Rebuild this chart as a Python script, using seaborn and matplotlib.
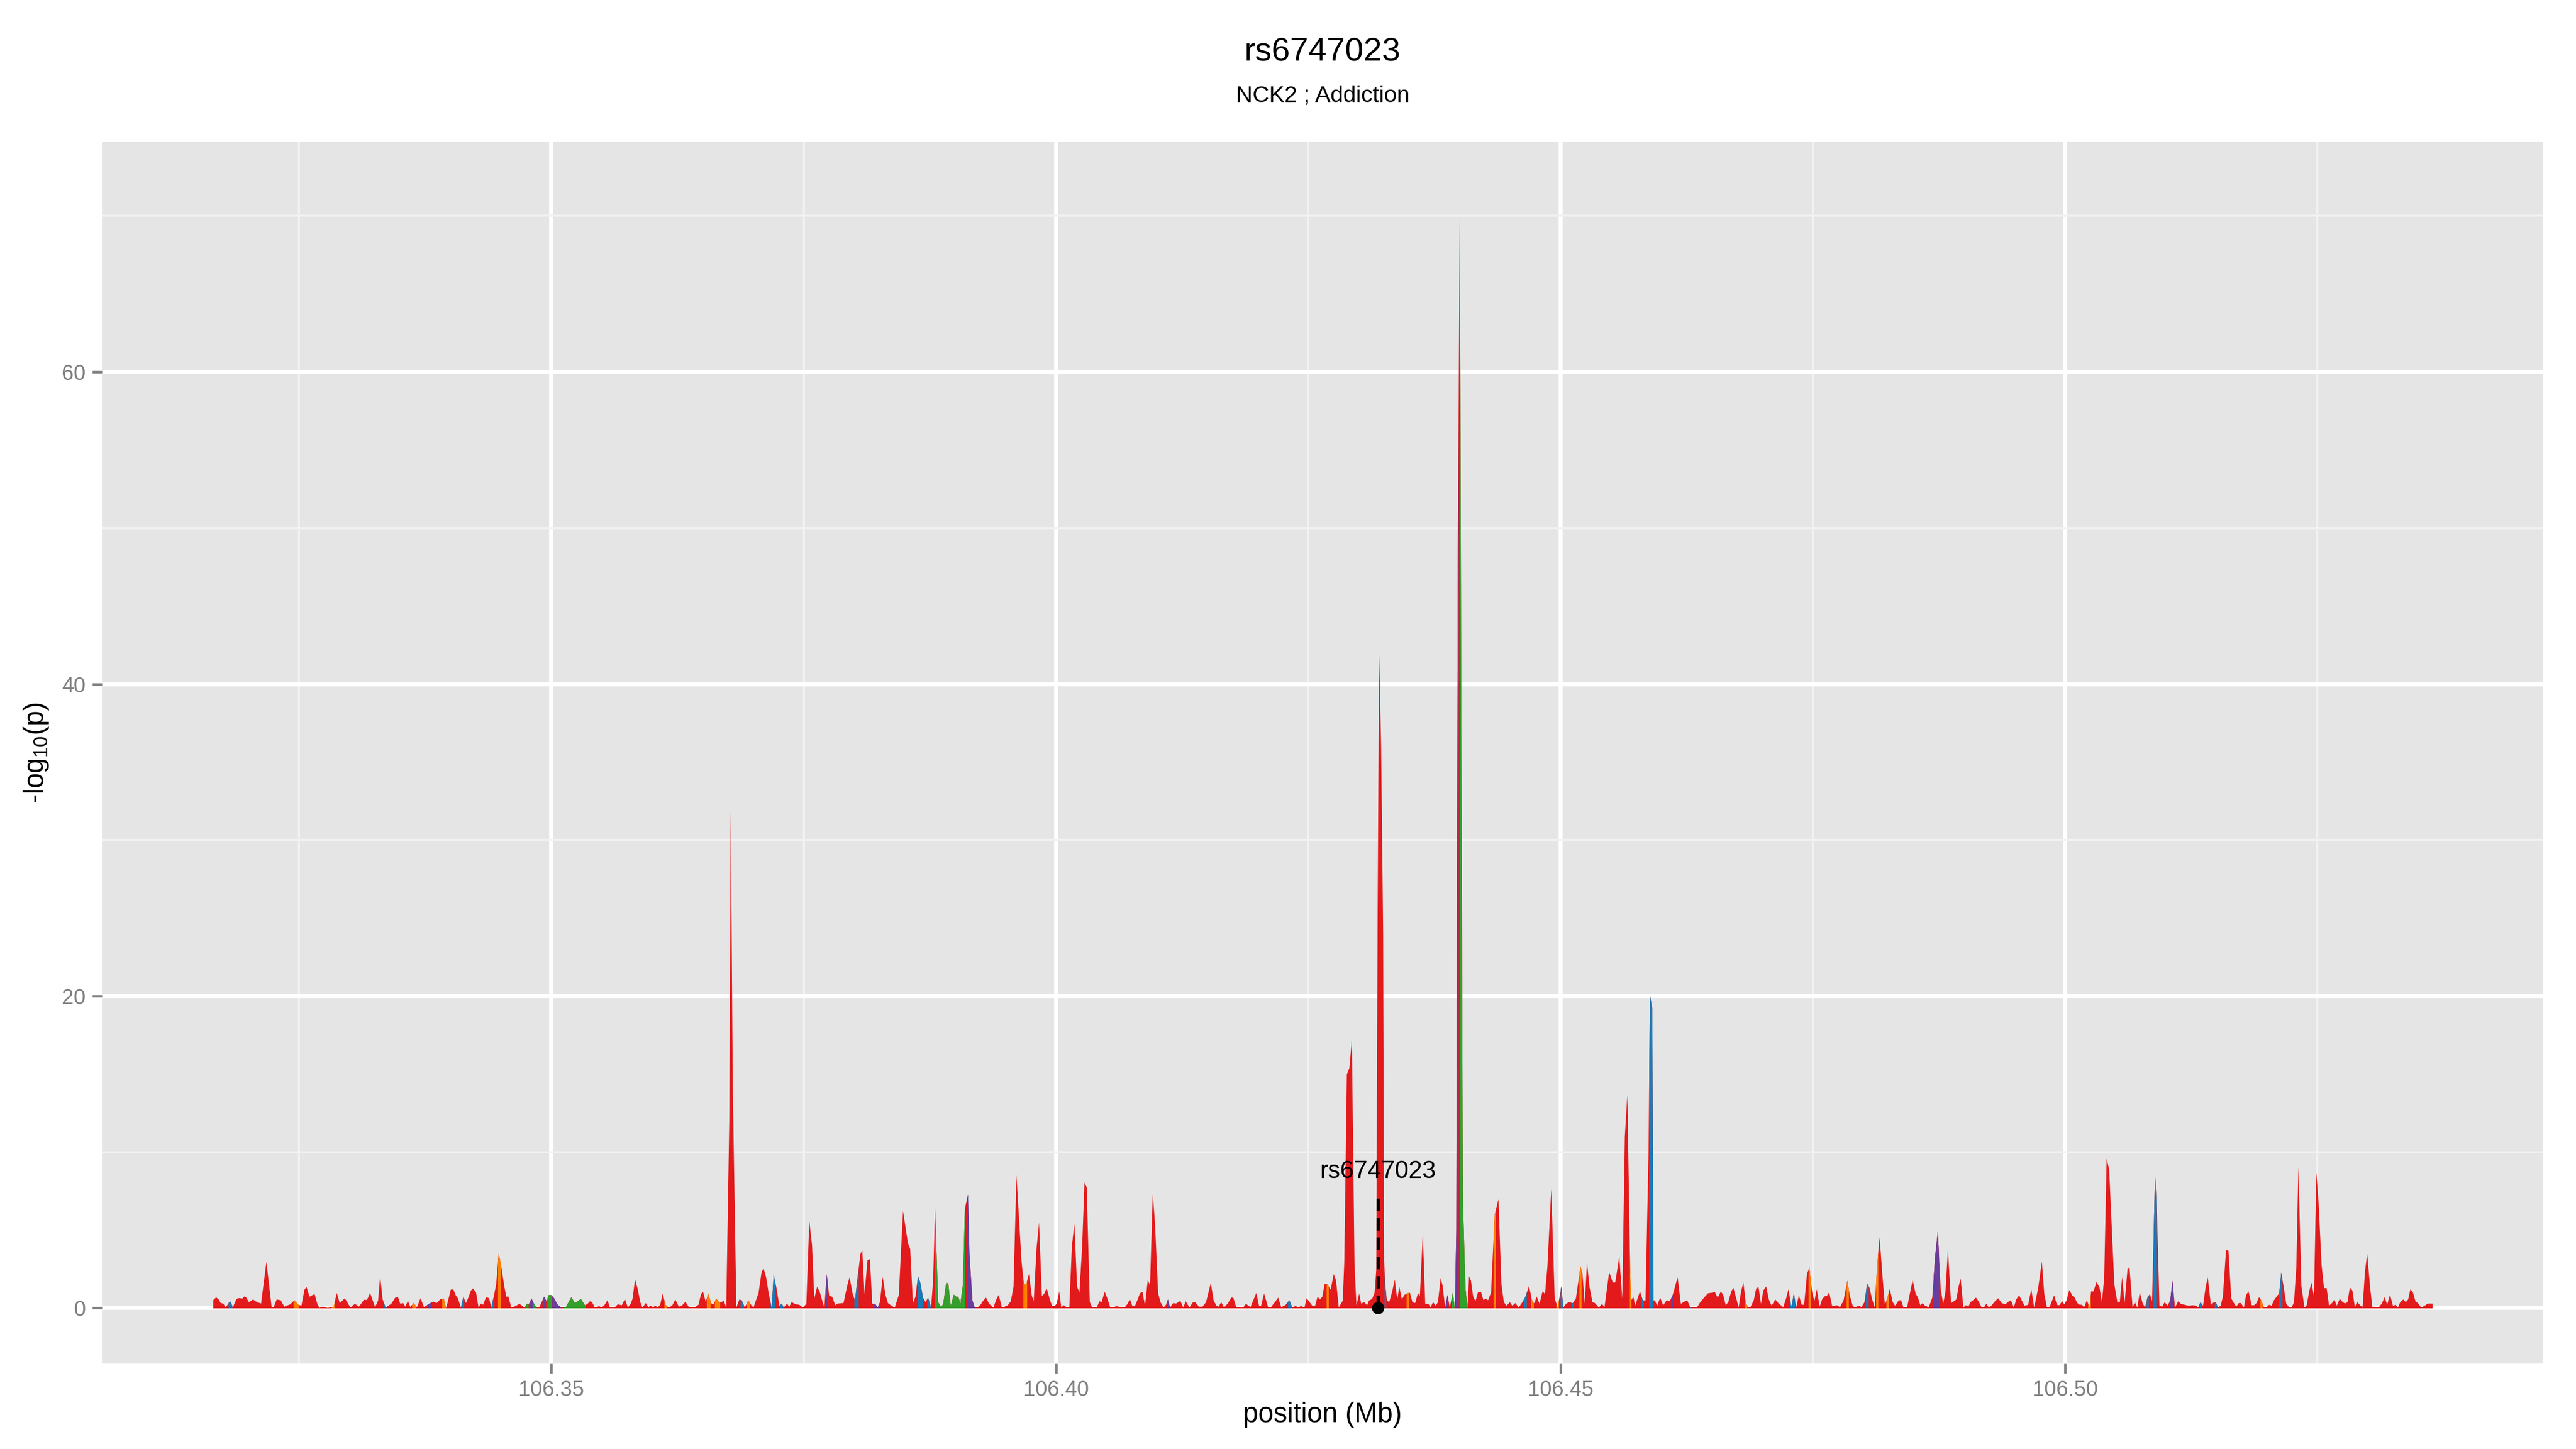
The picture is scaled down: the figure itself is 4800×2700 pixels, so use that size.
import numpy as np
import pandas as pd
import matplotlib
matplotlib.use("Agg")
import matplotlib.pyplot as plt
from matplotlib.patches import Rectangle
import seaborn as sns

# -log10(p) track, positions in kb from 106.30 Mb
seg1 = [(16.46, 0.52), (16.74, 0.71), (17.0, 0.57), (17.2, 0.34), (17.45, 0.31), (17.7, 0.06), (18.05, 0.4),
        (18.2, 0.43), (18.4, 0.06), (18.76, 0.61), (19.0, 0.66), (19.35, 0.63), (19.55, 0.77), (19.7, 0.72),
        (20.0, 0.4), (20.4, 0.57), (20.8, 0.4), (21.2, 0.31), (21.73, 2.98), (22.25, 0.06), (22.45, 0.08),
        (22.75, 0.57), (23.15, 0.52), (23.5, 0.11), (24.1, 0.26), (24.5, 0.52), (24.9, 0.23), (25.2, 0.17),
        (25.5, 1.2), (25.7, 1.38), (26.0, 0.75), (26.5, 0.92), (26.8, 0.23), (27.0, 0.03), (27.2, 0.11),
        (27.8, 0.03), (28.4, 0.11), (28.7, 0.99), (29.0, 0.34), (29.5, 0.65), (30.05, 0.06), (30.5, 0.29),
        (30.9, 0.11), (31.4, 0.55), (31.7, 0.54), (32.0, 0.99), (32.5, 0.08), (32.8, 0.5), (33.0, 2.06),
        (33.25, 0.57), (33.55, 0.06), (34.1, 0.29), (34.5, 0.69), (34.75, 0.75), (35.0, 0.29), (35.27, 0.34),
        (35.5, 0.11), (35.75, 0.48), (36.0, 0.08), (36.3, 0.34), (36.65, 0.08), (37.0, 0.65), (37.35, 0.08),
        (37.9, 0.31), (38.25, 0.44), (38.6, 0.34), (38.95, 0.57), (39.3, 0.63), (39.55, 0.03), (40.0, 1.2),
        (40.25, 1.23), (40.5, 0.83), (40.7, 0.65), (41.0, 0.06), (41.25, 0.75), (41.5, 0.34), (41.7, 0.63),
        (42.0, 1.15), (42.2, 1.28), (42.5, 1.03), (42.75, 0.06), (43.0, 0.31), (43.2, 0.23), (43.5, 0.72),
        (43.8, 0.65), (44.0, 0.06), (44.25, 0.72), (44.5, 1.55), (44.75, 3.55), (45.0, 2.7), (45.3, 1.43),
        (45.5, 0.75), (45.7, 0.77), (46.0, 0.06), (46.4, 0.14), (46.8, 0.29), (47.3, 0.06), (47.55, 0.29),
        (47.75, 0.29), (48.0, 0.63), (48.35, 0.17), (48.6, 0.06), (48.8, 0.11), (49.25, 0.75), (49.5, 0.46),
        (49.7, 0.86), (49.95, 0.86), (50.2, 0.69), (50.6, 0.23), (50.95, 0.06), (51.4, 0.08), (51.95, 0.72),
        (52.3, 0.34), (52.9, 0.6)]

seg2 = [(53.3, 0.2), (53.55, 0.29), (53.8, 0.46), (54.0, 0.4), (54.27, 0.06), (54.7, 0.14), (54.93, 0.08),
        (55.17, 0.15), (55.53, 0.52), (55.77, 0.06), (56.24, 0.06), (56.55, 0.26), (56.95, 0.2), (57.26, 0.6),
        (57.55, 0.06), (57.83, 0.29), (58.02, 0.63), (58.26, 1.86), (58.54, 1.2), (58.78, 0.4), (59.0, 0.06),
        (59.33, 0.34), (59.57, 0.08), (59.8, 0.17), (60.04, 0.08), (60.28, 0.17), (60.5, 0.06), (60.75, 0.23),
        (61.0, 0.95), (61.28, 0.23), (61.58, 0.06), (61.94, 0.17), (62.25, 0.57), (62.6, 0.11), (62.9, 0.17),
        (63.25, 0.42), (63.6, 0.08), (64.2, 0.08), (64.55, 0.23), (64.8, 0.92), (65.0, 1.07), (65.27, 0.4),
        (65.5, 0.97), (65.8, 0.34), (66.0, 0.23), (66.3, 0.63), (66.6, 0.4), (66.8, 0.4), (67.05, 0.48),
        (67.3, 0.06), (67.6, 12.0), (67.75, 31.9), (67.95, 14.0), (68.3, 0.06), (68.6, 0.57), (68.83, 0.52),
        (69.14, 0.06), (69.5, 0.52), (69.78, 0.2), (70.0, 0.06), (70.5, 0.99), (70.8, 2.33), (71.0, 2.56),
        (71.25, 2.0), (71.5, 0.99), (71.8, 0.06), (72.0, 2.15), (72.27, 1.33), (72.56, 0.17), (72.8, 0.31),
        (73.0, 0.06), (73.34, 0.31), (73.53, 0.08), (73.77, 0.4), (74.2, 0.26), (74.53, 0.23), (74.9, 0.06),
        (75.24, 0.29), (75.53, 5.6), (75.8, 4.07), (76.03, 0.63), (76.3, 1.38), (76.55, 1.09), (76.8, 0.52),
        (77.02, 0.06), (77.26, 2.18), (77.5, 0.8), (77.8, 0.75), (78.1, 0.2), (78.33, 0.31), (78.92, 0.34),
        (79.28, 1.43), (79.52, 2.0), (79.83, 0.92), (80.06, 0.52), (80.3, 1.9), (80.6, 3.5), (80.78, 3.73),
        (81.0, 0.92), (81.3, 3.1), (81.54, 3.15), (81.77, 0.29), (82.06, 0.29), (82.3, 0.06), (82.53, 0.4),
        (82.8, 2.03), (83.08, 0.86), (83.32, 0.34), (83.67, 0.17), (84.0, 0.06), (84.4, 0.86), (84.82, 6.25),
        (85.3, 4.2), (85.53, 3.8), (85.8, 0.34), (86.05, 0.75), (86.3, 2.06), (86.53, 1.66), (86.8, 0.69),
        (87.05, 0.4), (87.3, 0.69), (87.6, 0.06), (87.8, 1.8), (88.0, 6.36), (88.3, 0.4), (88.6, 0.08),
        (88.8, 0.29), (89.1, 1.64), (89.3, 1.61), (89.55, 0.17), (89.85, 0.88), (90.1, 0.75), (90.3, 0.75)]

seg3 = [(90.5, 0.3), (90.75, 1.5), (90.95, 6.4), (91.26, 7.3), (91.4, 3.5), (91.7, 0.5), (91.9, 0.1),
        (92.2, 0.06), (92.5, 0.23), (92.75, 0.48), (93.04, 0.69), (93.35, 0.29), (93.78, 0.06), (94.06, 0.57),
        (94.3, 0.86), (94.6, 0.11), (94.78, 0.08), (95.2, 0.2), (95.5, 0.46), (95.77, 1.38), (96.06, 8.54),
        (96.56, 3.04), (96.8, 1.55), (97.03, 1.55), (97.3, 2.2), (97.58, 0.8), (97.77, 0.46), (98.05, 3.84),
        (98.3, 5.5), (98.58, 0.8), (98.8, 0.92), (99.05, 1.3), (99.34, 0.63), (99.58, 0.17), (99.88, 0.17),
        (100.05, 0.31), (100.3, 1.09), (100.5, 0.08), (100.76, 0.2), (101.06, 0.06), (101.3, 0.08),
        (101.55, 3.96), (101.8, 5.45), (102.07, 1.38), (102.3, 1.03), (102.57, 3.96), (102.8, 8.08),
        (103.02, 7.76), (103.33, 0.4), (103.57, 0.06), (104.04, 0.08), (104.28, 0.46), (104.5, 0.4),
        (104.8, 1.07), (105.04, 0.69), (105.35, 0.08), (105.7, 0.08), (105.94, 0.14), (106.3, 0.1),
        (106.77, 0.06), (107.08, 0.29), (107.3, 0.6), (107.55, 0.14), (107.8, 0.15), (108.07, 0.57),
        (108.3, 0.97), (108.55, 1.05), (108.8, 0.17), (109.07, 1.8), (109.3, 1.49), (109.57, 7.4),
        (109.8, 5.33), (110.1, 0.97), (110.33, 0.4), (110.64, 0.06), (110.88, 0.23), (111.07, 0.57),
        (111.28, 0.06), (111.6, 0.34), (111.88, 0.31), (112.3, 0.48), (112.6, 0.06), (112.83, 0.46),
        (113.2, 0.06), (113.54, 0.38), (113.78, 0.4), (114.13, 0.11), (114.5, 0.11), (114.85, 0.4),
        (115.32, 1.63), (115.6, 0.52), (115.87, 0.17), (116.1, 0.11), (116.35, 0.4), (116.63, 0.06),
        (117.0, 0.31), (117.35, 0.69), (117.55, 0.69), (117.82, 0.11), (118.17, 0.06), (118.53, 0.06),
        (118.8, 0.29), (119.25, 0.08), (119.53, 0.52), (119.83, 0.99), (120.1, 0.17), (120.3, 0.15),
        (120.6, 0.95), (121.0, 0.08), (121.26, 0.06), (121.6, 0.34), (122.0, 0.69), (122.3, 0.08),
        (122.7, 0.2), (123.1, 0.52), (123.4, 0.06), (123.7, 0.15), (124.0, 0.08), (124.28, 0.15),
        (124.6, 0.06), (124.82, 0.65), (125.4, 0.15), (125.65, 0.15), (125.9, 0.75), (126.13, 0.57),
        (126.37, 0.75), (126.6, 1.55), (126.84, 1.58), (127.2, 1.2), (127.5, 2.2)]

seg4 = [(127.73, 1.8), (128.0, 0.06), (128.4, 0.5), (128.55, 3.0), (128.8, 15.0), (129.05, 15.4),
        (129.3, 17.2), (129.56, 2.9), (129.75, 0.2), (130.03, 0.95), (130.22, 0.3), (130.5, 0.4),
        (130.8, 0.2), (131.0, 0.5), (131.3, 0.6), (131.55, 1.0), (131.72, 2.5), (131.85, 25.0),
        (132.0, 42.2), (132.2, 36.0), (132.4, 24.0), (132.5, 3.0), (132.6, 1.55), (132.77, 0.52),
        (133.0, 0.4), (133.3, 1.09), (133.55, 1.86), (133.8, 0.57), (134.0, 1.38), (134.26, 0.57),
        (134.5, 0.86), (134.8, 0.97), (135.05, 1.0), (135.3, 0.4), (135.57, 0.34), (135.85, 0.97),
        (136.04, 0.8), (136.33, 4.8), (136.57, 0.29), (136.88, 0.29), (137.1, 0.08), (137.35, 0.4),
        (137.6, 0.17), (137.83, 0.4), (138.1, 1.95), (138.3, 1.43), (138.54, 0.06), (138.78, 0.86),
        (139.0, 0.06), (139.3, 1.0), (139.5, 0.06), (139.65, 5.0), (139.8, 48.0), (140.0, 71.2),
        (140.15, 37.0), (140.3, 7.0), (140.56, 1.3), (140.75, 0.06), (140.92, 2.06), (141.1, 1.78),
        (141.32, 0.75), (141.55, 0.46), (141.8, 1.03), (142.1, 1.05), (142.34, 0.52), (142.58, 0.63),
        (142.8, 0.52), (143.1, 1.03), (143.45, 6.0), (143.83, 7.0), (144.12, 1.55), (144.36, 0.4),
        (144.64, 0.17), (144.95, 0.4), (145.2, 0.17), (145.5, 0.34), (145.83, 0.06), (146.14, 0.34),
        (146.5, 0.75), (146.85, 1.43), (147.16, 0.52), (147.4, 0.31), (147.6, 0.77), (147.9, 0.29),
        (148.2, 1.1), (148.44, 0.92), (148.68, 2.7), (149.06, 7.65), (149.4, 0.63), (149.7, 0.06),
        (150.06, 1.43), (150.25, 0.06), (150.53, 0.29), (150.8, 0.4), (151.2, 0.34), (151.5, 0.63),
        (151.96, 2.7), (152.15, 2.24), (152.38, 0.29), (152.6, 2.95), (152.85, 1.38), (153.14, 0.4),
        (153.38, 0.34), (153.78, 0.06), (154.1, 0.29), (154.33, 0.06), (154.8, 2.33), (155.16, 1.66),
        (155.4, 1.66), (155.8, 3.33), (156.1, 0.63), (156.35, 11.0), (156.6, 13.7), (156.87, 2.8),
        (156.97, 0.5), (157.2, 0.75), (157.37, 0.17), (157.85, 1.09), (158.13, 0.52), (158.4, 0.5),
        (158.7, 10.0), (158.84, 20.1), (159.07, 19.2), (159.2, 0.5), (159.32, 0.52), (159.56, 0.17),
        (159.85, 0.69), (160.15, 0.2), (160.5, 0.52), (160.8, 0.46), (161.1, 0.86), (161.58, 2.0),
        (161.9, 0.29), (162.17, 0.4), (162.53, 0.52), (162.84, 0.06), (163.12, 0.08), (163.5, 0.06),
        (163.83, 0.4), (164.2, 0.69), (164.6, 0.97)]

seg5 = [(164.97, 1.0), (165.25, 1.07), (165.56, 0.69), (165.87, 1.09), (166.1, 0.86), (166.35, 0.2),
        (166.6, 0.4), (166.87, 1.03), (167.1, 1.34), (167.35, 0.75), (167.63, 0.06), (167.87, 1.09),
        (168.1, 1.66), (168.34, 0.34), (168.58, 0.06), (168.82, 0.11), (169.13, 0.52), (169.36, 1.26),
        (169.6, 1.38), (169.84, 0.29), (170.08, 1.15), (170.36, 1.41), (170.62, 0.57), (170.9, 0.17),
        (171.26, 0.57), (171.6, 0.31), (172.05, 0.08), (172.33, 0.63), (172.57, 1.23), (172.86, 0.06),
        (173.1, 0.99), (173.33, 0.06), (173.6, 0.84), (173.88, 0.23), (174.12, 0.23), (174.4, 2.18),
        (174.64, 2.64), (174.9, 1.09), (175.14, 0.46), (175.37, 1.23), (175.66, 0.11), (175.9, 0.57),
        (176.13, 0.77), (176.37, 0.8), (176.6, 1.03), (176.9, 0.14), (177.37, 0.2), (177.68, 0.08),
        (178.03, 0.52), (178.4, 1.78), (178.63, 0.86), (178.94, 0.14), (179.17, 0.08), (179.58, 0.17),
        (179.8, 0.08), (180.1, 0.4), (180.36, 1.6), (180.6, 1.32), (180.84, 0.63), (181.12, 0.06),
        (181.36, 2.81), (181.6, 4.55), (181.88, 2.1), (182.12, 0.23), (182.36, 0.63), (182.6, 1.26),
        (182.9, 0.4), (183.14, 0.17), (183.5, 0.52), (183.73, 0.52), (183.97, 0.06), (184.33, 0.08),
        (184.57, 0.86), (184.88, 1.83), (185.16, 0.97), (185.4, 0.69), (185.64, 0.2), (185.87, 0.34),
        (186.1, 0.17), (186.47, 0.08), (186.82, 0.69), (187.1, 3.33), (187.37, 4.93), (187.65, 1.26),
        (187.9, 0.29), (188.13, 1.09), (188.37, 3.78), (188.68, 0.34), (188.96, 0.46), (189.2, 0.57),
        (189.44, 1.43), (189.63, 1.92), (189.9, 0.06), (190.15, 0.2), (190.4, 0.11), (190.6, 0.4),
        (190.86, 0.52), (191.15, 0.69), (191.4, 0.46), (191.7, 0.08), (191.93, 0.06), (192.17, 0.29),
        (192.4, 0.08), (192.64, 0.14), (192.95, 0.4), (193.35, 0.65), (193.7, 0.34), (194.07, 0.26),
        (194.3, 0.4), (194.6, 0.52), (194.9, 0.06), (195.14, 0.57), (195.42, 0.84), (195.73, 0.46),
        (195.97, 0.17), (196.32, 0.23), (196.63, 1.23), (196.92, 0.06), (197.32, 1.32), (197.68, 3.0),
        (197.92, 0.92), (198.18, 0.08), (198.46, 0.11), (198.9, 0.84), (199.17, 0.23), (199.4, 0.2),
        (199.7, 0.46), (199.9, 0.26), (200.13, 0.52), (200.4, 1.18), (200.72, 0.8), (200.9, 0.72),
        (201.2, 0.34), (201.43, 0.23), (201.67, 0.23), (201.86, 0.06), (202.14, 0.52)]

seg6 = [(202.4, 0.06), (202.56, 1.09), (202.8, 1.09), (203.1, 1.7), (203.4, 1.32), (203.63, 0.4),
        (203.86, 1.96), (204.1, 9.6), (204.35, 8.9), (204.86, 1.55), (205.17, 0.37), (205.4, 0.4),
        (205.64, 2.0), (205.88, 0.34), (206.17, 2.52), (206.36, 2.66), (206.67, 0.06), (206.9, 0.4),
        (207.14, 0.06), (207.38, 1.03), (207.66, 0.34), (207.9, 0.06), (208.14, 0.69), (208.38, 0.92),
        (208.6, 0.46), (208.9, 8.66), (209.1, 5.8), (209.33, 0.17), (209.6, 0.11), (209.85, 0.4),
        (210.15, 0.17), (210.4, 0.52), (210.63, 1.78), (210.87, 0.06), (211.2, 0.46), (211.46, 0.29),
        (211.82, 0.23), (212.2, 0.17), (212.65, 0.2), (213.0, 0.17), (213.17, 0.06), (213.4, 0.4),
        (213.65, 0.17), (213.9, 1.32), (214.12, 2.0), (214.43, 0.23), (214.74, 0.4), (214.9, 0.4),
        (215.15, 0.06), (215.4, 0.17), (215.62, 0.75), (215.93, 3.75), (216.17, 3.7), (216.45, 0.63),
        (216.93, 0.11), (217.2, 0.34), (217.4, 0.34), (217.7, 0.06), (217.92, 0.86), (218.16, 1.09),
        (218.47, 0.2), (218.7, 0.2), (218.95, 0.34), (219.2, 0.72), (219.42, 0.52), (219.66, 0.11),
        (219.9, 0.06), (220.2, 0.23), (220.44, 0.17), (220.68, 0.52), (221.0, 0.8), (221.2, 0.97),
        (221.4, 2.3), (221.63, 1.43), (221.9, 0.29), (222.2, 0.06), (222.44, 0.06), (222.67, 0.4),
        (222.9, 2.7), (223.1, 9.06), (223.4, 1.43), (223.7, 0.06), (223.93, 0.2), (224.17, 1.09),
        (224.4, 1.66), (224.65, 0.75), (224.88, 8.7), (225.1, 6.8), (225.4, 2.8), (225.64, 1.3),
        (225.9, 1.3), (226.14, 0.17), (226.43, 0.34), (226.67, 0.57), (226.9, 0.17), (227.2, 0.61),
        (227.5, 0.4), (227.73, 0.31), (227.97, 0.4), (228.2, 1.34), (228.45, 1.15), (228.7, 0.08),
        (228.92, 0.42), (229.28, 0.15), (229.47, 0.11), (229.7, 2.35), (229.92, 3.52), (230.18, 1.55),
        (230.42, 0.11), (230.7, 0.09), (231.06, 0.06), (231.37, 0.31), (231.65, 0.72), (231.9, 0.23),
        (232.18, 0.88), (232.48, 0.15), (232.72, 0.23), (232.96, 0.06), (233.2, 0.4), (233.5, 0.57),
        (233.74, 0.4), (233.98, 0.57), (234.2, 1.23), (234.45, 1.03), (234.7, 0.46), (234.98, 0.31),
        (235.26, 0.06), (235.57, 0.15), (235.93, 0.31), (236.4, 0.31)]

# stretches of the track drawn in another state colour (kb from 106.30 Mb)
state_spans = [
    (18.0, 18.35, "blue"), (24.45, 25.0, "orange"), (28.2, 28.5, "orange"), (33.45, 33.6, "blue"),
    (36.2, 36.5, "orange"), (37.7, 38.0, "purple"), (39.2, 39.5, "orange"), (41.1, 41.3, "blue"),
    (44.1, 44.3, "blue"), (44.7, 44.9, "orange"), (47.4, 47.7, "green"), (47.9, 48.1, "purple"),
    (48.2, 48.5, "green"), (49.1, 49.35, "purple"), (49.6, 50.0, "green"), (50.1, 50.9, "purple"),
    (51.2, 53.4, "green"), (61.2, 61.4, "orange"), (65.4, 65.7, "orange"), (66.2, 66.7, "orange"),
    (68.75, 69.0, "blue"), (69.4, 69.6, "orange"), (71.75, 72.1, "blue"), (72.7, 72.9, "blue"),
    (77.15, 77.35, "purple"), (80.0, 80.4, "blue"), (82.0, 82.45, "purple"), (86.3, 86.8, "blue"),
    (87.25, 87.5, "blue"), (88.0, 90.95, "green"), (91.25, 91.95, "purple"), (96.8, 97.1, "orange"),
    (111.0, 111.3, "purple"), (123.0, 123.3, "blue"), (126.8, 127.0, "orange"), (132.55, 132.7, "blue"),
    (134.75, 134.95, "orange"), (138.7, 138.85, "purple"), (139.2, 139.45, "green"),
    (139.6, 139.85, "purple"), (140.05, 140.8, "green"), (143.35, 143.5, "orange"),
    (146.4, 146.6, "blue"), (147.1, 147.3, "orange"), (149.6, 149.8, "orange"), (150.0, 150.2, "blue"),
    (151.15, 151.3, "blue"), (151.9, 152.05, "orange"), (156.9, 157.0, "orange"), (158.05, 158.2, "blue"),
    (158.78, 159.12, "blue"), (161.0, 161.2, "purple"), (162.75, 162.9, "blue"), (168.3, 168.45, "orange"),
    (172.8, 173.2, "blue"), (174.6, 174.75, "orange"), (178.35, 178.5, "orange"), (180.3, 180.5, "blue"),
    (181.3, 181.45, "orange"), (182.3, 182.5, "orange"), (187.0, 187.45, "purple"), (202.3, 202.5, "orange"),
    (208.1, 208.25, "blue"), (208.8, 209.0, "blue"), (210.35, 210.7, "purple"), (213.35, 213.5, "blue"),
    (214.85, 215.0, "blue"), (219.35, 219.5, "orange"), (221.15, 221.5, "blue"),
]

state_colors = {"red": "#E31A1C", "blue": "#1F78B4", "green": "#33A02C",
                "purple": "#6A3D9A", "orange": "#FF7F00"}

x_ticks = [106.35, 106.40, 106.45, 106.50]
x_tick_labels = ["106.35", "106.40", "106.45", "106.50"]
x_minor = [106.325, 106.375, 106.425, 106.475, 106.525]
y_ticks = [0, 20, 40, 60]
y_minor = [10, 30, 50, 70]

snp_name = "rs6747023"
snp_kb = 131.93
subtitle = "NCK2 ; Addiction"

base = 106.30
df = pd.DataFrame(seg1 + seg2 + seg3 + seg4 + seg5 + seg6, columns=["kb", "logp"])
df["pos"] = base + df["kb"] / 1000.0

sns.set_theme(style="darkgrid", rc={
    "axes.facecolor": "#E5E5E5",
    "figure.facecolor": "white",
    "grid.color": "white",
})
plt.rcParams["font.family"] = ["Liberation Sans", "DejaVu Sans"]
plt.rcParams["mathtext.fontset"] = "custom"
plt.rcParams["mathtext.rm"] = "Liberation Sans"
plt.rcParams["mathtext.it"] = "Liberation Sans:italic"

fig = plt.figure(figsize=(16, 9), dpi=300)
ax = fig.add_axes([0.0396, 0.0589, 0.9477, 0.8433])

x = df["pos"].values
y = df["logp"].values
ax.fill_between(x, 0, y, color=state_colors["red"], linewidth=0, zorder=2)
for a, b, st in state_spans:
    poly = ax.fill_between(x, 0, y, color=state_colors[st], linewidth=0, zorder=3)
    clip = Rectangle((base + a / 1000.0, -5), (b - a) / 1000.0, 100, transform=ax.transData)
    poly.set_clip_path(clip)

# highlighted SNP
snp_pos = base + snp_kb / 1000.0
ax.plot([snp_pos, snp_pos], [0, 7.2], color="black", lw=1.7, linestyle=(0, (3.3, 1.8)), zorder=5)
sns.scatterplot(x=[snp_pos], y=[0], color="black", s=30, edgecolor="none", zorder=6, ax=ax, legend=False)
ax.text(snp_pos, 8.77, snp_name, ha="center", va="center", fontsize=11, color="black", zorder=6)

span = x.max() - x.min()
ax.set_xlim(x.min() - 0.05 * span, x.max() + 0.05 * span)
ax.set_ylim(-0.05 * y.max(), y.max() * 1.05)

ax.set_xticks(x_ticks)
ax.set_xticklabels(x_tick_labels)
ax.set_xticks(x_minor, minor=True)
ax.set_yticks(y_ticks)
ax.set_yticklabels([str(v) for v in y_ticks])
ax.set_yticks(y_minor, minor=True)
ax.grid(which="major", color="white", linewidth=1.8)
ax.grid(which="minor", color="#F2F2F2", linewidth=0.9)
ax.set_axisbelow(True)
ax.tick_params(which="major", length=4.25, width=1.1, color="#7F7F7F",
               labelcolor="#7F7F7F", labelsize=9.6, pad=3, bottom=True, left=True)
ax.tick_params(which="minor", length=0)
for s in ax.spines.values():
    s.set_visible(False)

ax.set_xlabel("")
ax.set_ylabel("")
cx = 0.0396 + 0.9477 / 2
fig.text(cx, 0.9637, snp_name, ha="center", va="center", fontsize=14.8, color="black")
fig.text(cx, 0.934, subtitle, ha="center", va="center", fontsize=10.3, color="black")
fig.text(cx, 0.0237, "position (Mb)", ha="center", va="center", fontsize=12.3, color="black")
fig.text(0.014, 0.0589 + 0.8433 / 2, r"-log$_{\mathrm{10}}$(p)", ha="center", va="center",
         rotation=90, fontsize=12.3, color="black")

fig.savefig("out.png", dpi=300)
